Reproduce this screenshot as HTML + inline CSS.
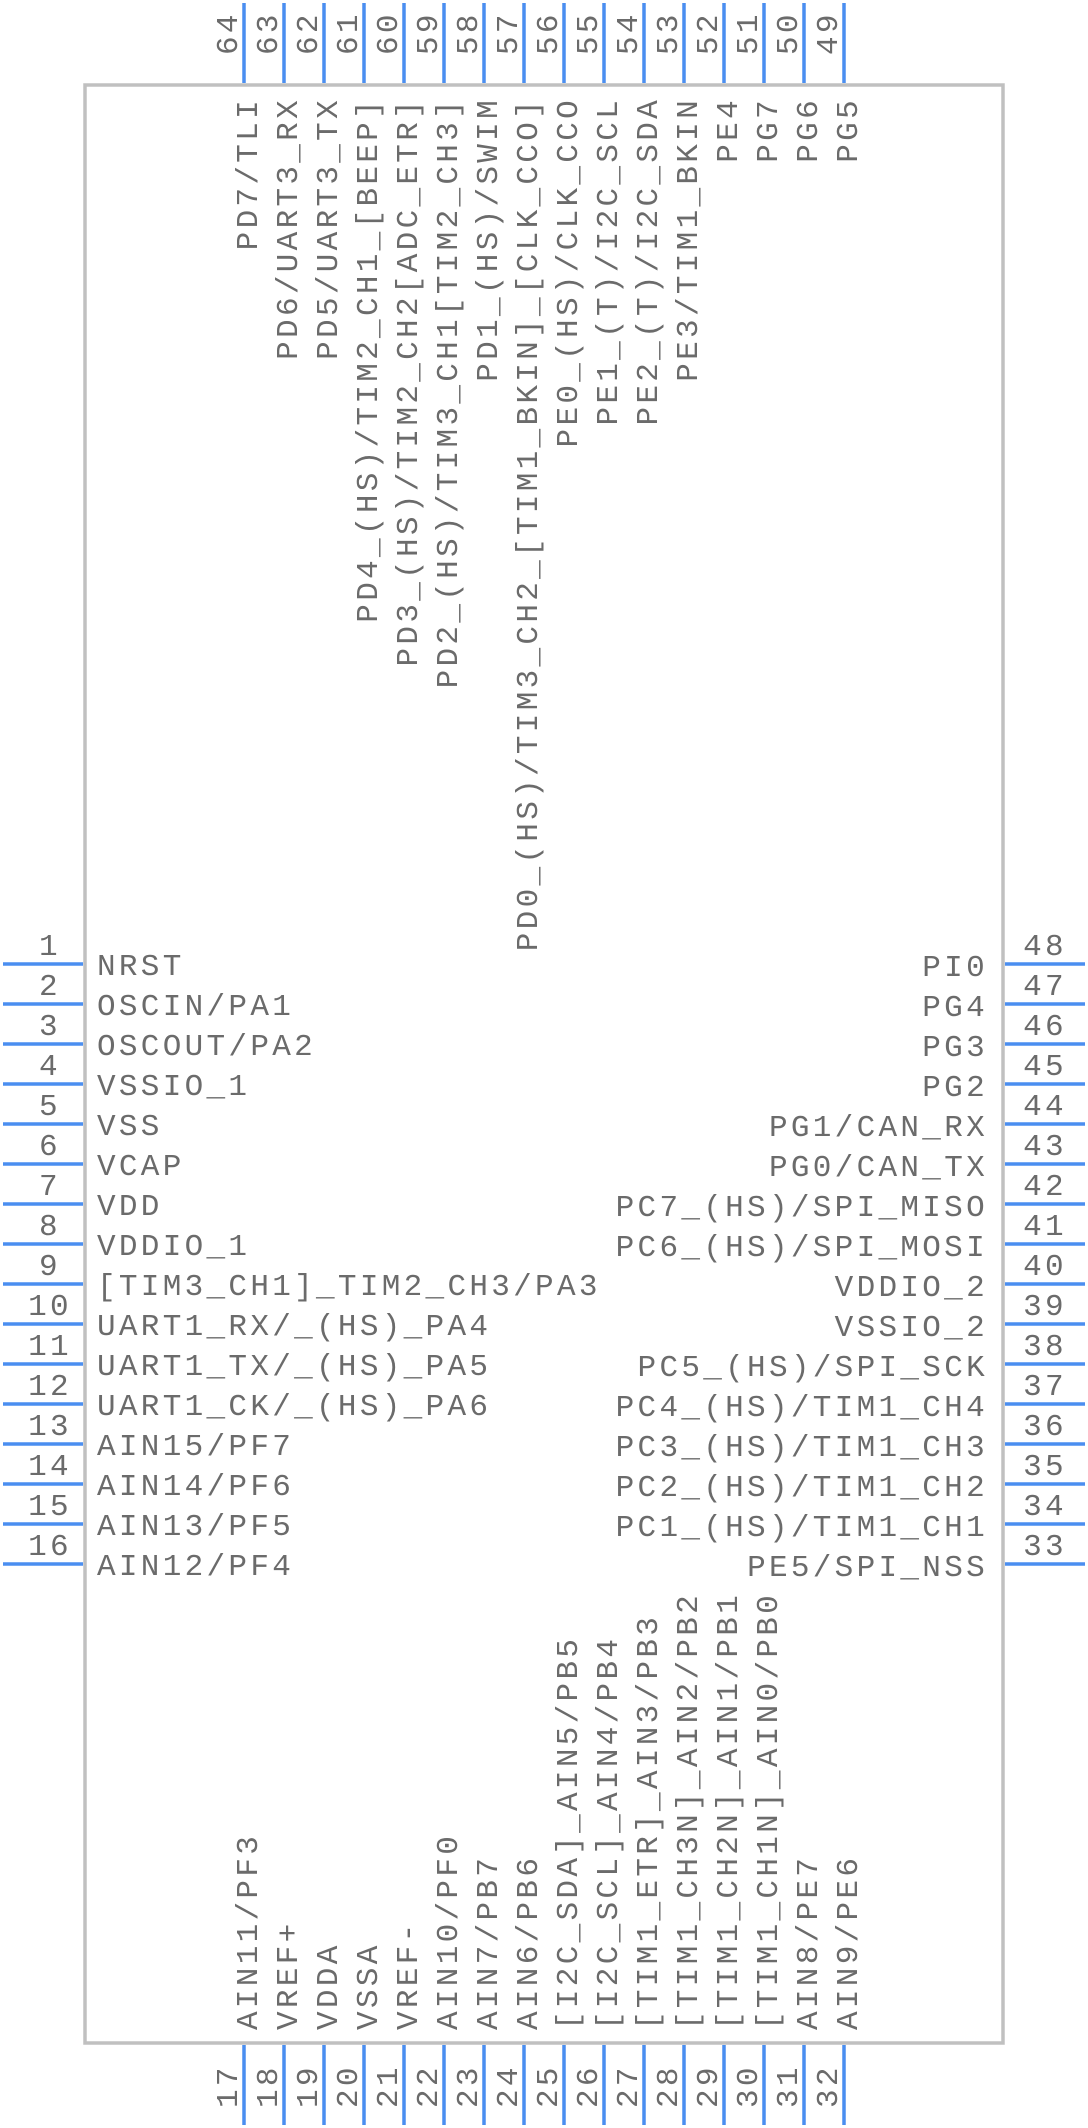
<!DOCTYPE html>
<html><head><meta charset="utf-8"><style>
html,body{margin:0;padding:0;background:#fff;}
svg{display:block;}
text{font-family:"Liberation Mono",monospace;font-size:31px;letter-spacing:3.3px;fill:#6b6b6b;}
</style></head><body>
<svg width="1088" height="2128" viewBox="0 0 1088 2128" xmlns="http://www.w3.org/2000/svg">
<rect x="85" y="85" width="918" height="1958" fill="none" stroke="#c0c0c0" stroke-width="3.5"/>
<g stroke="#4a8ef0" stroke-width="3.5">
<!-- left -->
<line x1="3" y1="964" x2="83" y2="964"/><line x1="3" y1="1004" x2="83" y2="1004"/><line x1="3" y1="1044" x2="83" y2="1044"/><line x1="3" y1="1084" x2="83" y2="1084"/>
<line x1="3" y1="1124" x2="83" y2="1124"/><line x1="3" y1="1164" x2="83" y2="1164"/><line x1="3" y1="1204" x2="83" y2="1204"/><line x1="3" y1="1244" x2="83" y2="1244"/>
<line x1="3" y1="1284" x2="83" y2="1284"/><line x1="3" y1="1324" x2="83" y2="1324"/><line x1="3" y1="1364" x2="83" y2="1364"/><line x1="3" y1="1404" x2="83" y2="1404"/>
<line x1="3" y1="1444" x2="83" y2="1444"/><line x1="3" y1="1484" x2="83" y2="1484"/><line x1="3" y1="1524" x2="83" y2="1524"/><line x1="3" y1="1564" x2="83" y2="1564"/>
<!-- right -->
<line x1="1005" y1="964" x2="1085" y2="964"/><line x1="1005" y1="1004" x2="1085" y2="1004"/><line x1="1005" y1="1044" x2="1085" y2="1044"/><line x1="1005" y1="1084" x2="1085" y2="1084"/>
<line x1="1005" y1="1124" x2="1085" y2="1124"/><line x1="1005" y1="1164" x2="1085" y2="1164"/><line x1="1005" y1="1204" x2="1085" y2="1204"/><line x1="1005" y1="1244" x2="1085" y2="1244"/>
<line x1="1005" y1="1284" x2="1085" y2="1284"/><line x1="1005" y1="1324" x2="1085" y2="1324"/><line x1="1005" y1="1364" x2="1085" y2="1364"/><line x1="1005" y1="1404" x2="1085" y2="1404"/>
<line x1="1005" y1="1444" x2="1085" y2="1444"/><line x1="1005" y1="1484" x2="1085" y2="1484"/><line x1="1005" y1="1524" x2="1085" y2="1524"/><line x1="1005" y1="1564" x2="1085" y2="1564"/>
<!-- top -->
<line x1="244" y1="3" x2="244" y2="83"/><line x1="284" y1="3" x2="284" y2="83"/><line x1="324" y1="3" x2="324" y2="83"/><line x1="364" y1="3" x2="364" y2="83"/>
<line x1="404" y1="3" x2="404" y2="83"/><line x1="444" y1="3" x2="444" y2="83"/><line x1="484" y1="3" x2="484" y2="83"/><line x1="524" y1="3" x2="524" y2="83"/>
<line x1="564" y1="3" x2="564" y2="83"/><line x1="604" y1="3" x2="604" y2="83"/><line x1="644" y1="3" x2="644" y2="83"/><line x1="684" y1="3" x2="684" y2="83"/>
<line x1="724" y1="3" x2="724" y2="83"/><line x1="764" y1="3" x2="764" y2="83"/><line x1="804" y1="3" x2="804" y2="83"/><line x1="844" y1="3" x2="844" y2="83"/>
<!-- bottom -->
<line x1="244" y1="2045" x2="244" y2="2125"/><line x1="284" y1="2045" x2="284" y2="2125"/><line x1="324" y1="2045" x2="324" y2="2125"/><line x1="364" y1="2045" x2="364" y2="2125"/>
<line x1="404" y1="2045" x2="404" y2="2125"/><line x1="444" y1="2045" x2="444" y2="2125"/><line x1="484" y1="2045" x2="484" y2="2125"/><line x1="524" y1="2045" x2="524" y2="2125"/>
<line x1="564" y1="2045" x2="564" y2="2125"/><line x1="604" y1="2045" x2="604" y2="2125"/><line x1="644" y1="2045" x2="644" y2="2125"/><line x1="684" y1="2045" x2="684" y2="2125"/>
<line x1="724" y1="2045" x2="724" y2="2125"/><line x1="764" y1="2045" x2="764" y2="2125"/><line x1="804" y1="2045" x2="804" y2="2125"/><line x1="844" y1="2045" x2="844" y2="2125"/>
</g>
<!-- left numbers -->
<g text-anchor="middle">
<text x="50" y="955">1</text><text x="50" y="995">2</text><text x="50" y="1035">3</text><text x="50" y="1075">4</text>
<text x="50" y="1115">5</text><text x="50" y="1155">6</text><text x="50" y="1195">7</text><text x="50" y="1235">8</text>
<text x="50" y="1275">9</text><text x="50" y="1315">10</text><text x="50" y="1355">11</text><text x="50" y="1395">12</text>
<text x="50" y="1435">13</text><text x="50" y="1475">14</text><text x="50" y="1515">15</text><text x="50" y="1555">16</text>
<text x="1045" y="955">48</text><text x="1045" y="995">47</text><text x="1045" y="1035">46</text><text x="1045" y="1075">45</text>
<text x="1045" y="1115">44</text><text x="1045" y="1155">43</text><text x="1045" y="1195">42</text><text x="1045" y="1235">41</text>
<text x="1045" y="1275">40</text><text x="1045" y="1315">39</text><text x="1045" y="1355">38</text><text x="1045" y="1395">37</text>
<text x="1045" y="1435">36</text><text x="1045" y="1475">35</text><text x="1045" y="1515">34</text><text x="1045" y="1555">33</text>
</g>
<!-- left labels -->
<g>
<text x="97" y="975">NRST</text><text x="97" y="1015">OSCIN/PA1</text><text x="97" y="1055">OSCOUT/PA2</text><text x="97" y="1095">VSSIO_1</text>
<text x="97" y="1135">VSS</text><text x="97" y="1175">VCAP</text><text x="97" y="1215">VDD</text><text x="97" y="1255">VDDIO_1</text>
<text x="97" y="1295">[TIM3_CH1]_TIM2_CH3/PA3</text><text x="97" y="1335">UART1_RX/_(HS)_PA4</text><text x="97" y="1375">UART1_TX/_(HS)_PA5</text><text x="97" y="1415">UART1_CK/_(HS)_PA6</text>
<text x="97" y="1455">AIN15/PF7</text><text x="97" y="1495">AIN14/PF6</text><text x="97" y="1535">AIN13/PF5</text><text x="97" y="1575">AIN12/PF4</text>
</g>
<!-- right labels -->
<g text-anchor="end">
<text x="988" y="976">PI0</text><text x="988" y="1016">PG4</text><text x="988" y="1056">PG3</text><text x="988" y="1096">PG2</text>
<text x="988" y="1136">PG1/CAN_RX</text><text x="988" y="1176">PG0/CAN_TX</text><text x="988" y="1216">PC7_(HS)/SPI_MISO</text><text x="988" y="1256">PC6_(HS)/SPI_MOSI</text>
<text x="988" y="1296">VDDIO_2</text><text x="988" y="1336">VSSIO_2</text><text x="988" y="1376">PC5_(HS)/SPI_SCK</text><text x="988" y="1416">PC4_(HS)/TIM1_CH4</text>
<text x="988" y="1456">PC3_(HS)/TIM1_CH3</text><text x="988" y="1496">PC2_(HS)/TIM1_CH2</text><text x="988" y="1536">PC1_(HS)/TIM1_CH1</text><text x="988" y="1576">PE5/SPI_NSS</text>
</g>
<!-- top numbers -->
<g>
<text transform="translate(237,55) rotate(-90)">64</text><text transform="translate(277,55) rotate(-90)">63</text><text transform="translate(317,55) rotate(-90)">62</text><text transform="translate(357,55) rotate(-90)">61</text>
<text transform="translate(397,55) rotate(-90)">60</text><text transform="translate(437,55) rotate(-90)">59</text><text transform="translate(477,55) rotate(-90)">58</text><text transform="translate(517,55) rotate(-90)">57</text>
<text transform="translate(557,55) rotate(-90)">56</text><text transform="translate(597,55) rotate(-90)">55</text><text transform="translate(637,55) rotate(-90)">54</text><text transform="translate(677,55) rotate(-90)">53</text>
<text transform="translate(717,55) rotate(-90)">52</text><text transform="translate(757,55) rotate(-90)">51</text><text transform="translate(797,55) rotate(-90)">50</text><text transform="translate(837,55) rotate(-90)">49</text>
</g>
<!-- bottom numbers -->
<g>
<text transform="translate(237,2108) rotate(-90)">17</text><text transform="translate(277,2108) rotate(-90)">18</text><text transform="translate(317,2108) rotate(-90)">19</text><text transform="translate(357,2108) rotate(-90)">20</text>
<text transform="translate(397,2108) rotate(-90)">21</text><text transform="translate(437,2108) rotate(-90)">22</text><text transform="translate(477,2108) rotate(-90)">23</text><text transform="translate(517,2108) rotate(-90)">24</text>
<text transform="translate(557,2108) rotate(-90)">25</text><text transform="translate(597,2108) rotate(-90)">26</text><text transform="translate(637,2108) rotate(-90)">27</text><text transform="translate(677,2108) rotate(-90)">28</text>
<text transform="translate(717,2108) rotate(-90)">29</text><text transform="translate(757,2108) rotate(-90)">30</text><text transform="translate(797,2108) rotate(-90)">31</text><text transform="translate(837,2108) rotate(-90)">32</text>
</g>
<!-- top labels -->
<g text-anchor="end">
<text transform="translate(257,97) rotate(-90)">PD7/TLI</text>
<text transform="translate(297,97) rotate(-90)">PD6/UART3_RX</text>
<text transform="translate(337,97) rotate(-90)">PD5/UART3_TX</text>
<text transform="translate(377,97) rotate(-90)">PD4_(HS)/TIM2_CH1_[BEEP]</text>
<text transform="translate(417,97) rotate(-90)">PD3_(HS)/TIM2_CH2[ADC_ETR]</text>
<text transform="translate(457,97) rotate(-90)">PD2_(HS)/TIM3_CH1[TIM2_CH3]</text>
<text transform="translate(497,97) rotate(-90)">PD1_(HS)/SWIM</text>
<text transform="translate(537,97) rotate(-90)">PD0_(HS)/TIM3_CH2_[TIM1_BKIN]_[CLK_CCO]</text>
<text transform="translate(577,97) rotate(-90)">PE0_(HS)/CLK_CCO</text>
<text transform="translate(617,97) rotate(-90)">PE1_(T)/I2C_SCL</text>
<text transform="translate(657,97) rotate(-90)">PE2_(T)/I2C_SDA</text>
<text transform="translate(697,97) rotate(-90)">PE3/TIM1_BKIN</text>
<text transform="translate(737,97) rotate(-90)">PE4</text>
<text transform="translate(777,97) rotate(-90)">PG7</text>
<text transform="translate(817,97) rotate(-90)">PG6</text>
<text transform="translate(857,97) rotate(-90)">PG5</text>
</g>
<!-- bottom labels -->
<g>
<text transform="translate(257,2030) rotate(-90)">AIN11/PF3</text>
<text transform="translate(297,2030) rotate(-90)">VREF+</text>
<text transform="translate(337,2030) rotate(-90)">VDDA</text>
<text transform="translate(377,2030) rotate(-90)">VSSA</text>
<text transform="translate(417,2030) rotate(-90)">VREF-</text>
<text transform="translate(457,2030) rotate(-90)">AIN10/PF0</text>
<text transform="translate(497,2030) rotate(-90)">AIN7/PB7</text>
<text transform="translate(537,2030) rotate(-90)">AIN6/PB6</text>
<text transform="translate(577,2030) rotate(-90)">[I2C_SDA]_AIN5/PB5</text>
<text transform="translate(617,2030) rotate(-90)">[I2C_SCL]_AIN4/PB4</text>
<text transform="translate(657,2030) rotate(-90)">[TIM1_ETR]_AIN3/PB3</text>
<text transform="translate(697,2030) rotate(-90)">[TIM1_CH3N]_AIN2/PB2</text>
<text transform="translate(737,2030) rotate(-90)">[TIM1_CH2N]_AIN1/PB1</text>
<text transform="translate(777,2030) rotate(-90)">[TIM1_CH1N]_AIN0/PB0</text>
<text transform="translate(817,2030) rotate(-90)">AIN8/PE7</text>
<text transform="translate(857,2030) rotate(-90)">AIN9/PE6</text>
</g>
</svg>
</body></html>
